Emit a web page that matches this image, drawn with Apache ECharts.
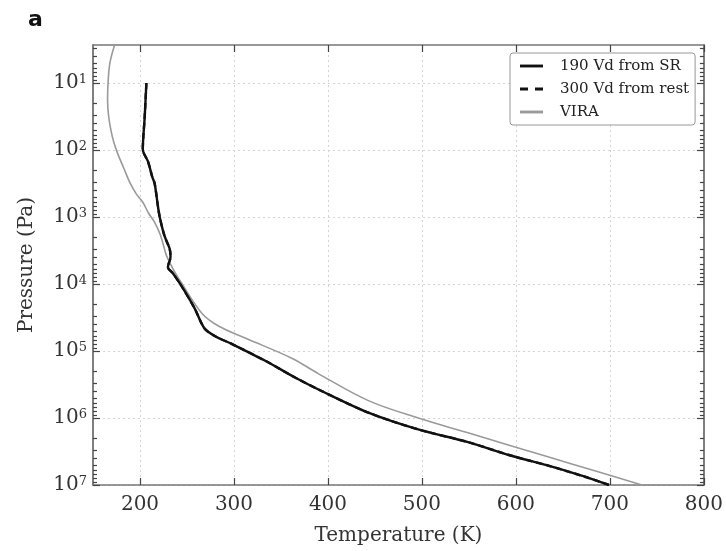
<!DOCTYPE html>
<html>
<head>
<meta charset="utf-8">
<script src="https://cdn.jsdelivr.net/npm/echarts@6/dist/echarts.min.js"></script>
<style>
html,body{margin:0;padding:0;background:#fff;}
#chart{width:726px;height:551px;}
</style>
</head>
<body>
<div id="chart"></div>
<script>
// ---- data ----
const sr190Temp = [206.8, 205, 203, 208.5, 213, 215.6, 219, 221, 226, 231.5, 232.5, 229.7, 235, 243.8, 258, 268.5, 280, 298.5, 333.8, 365.5, 389.4, 443, 496, 549, 594.4, 633.6, 669, 699];
const sr190Pressure = [10, 32, 98, 148, 250, 316, 676, 1000, 1900, 2950, 3900, 5600, 6900, 10500, 22900, 45700, 60000, 79400, 141000, 251000, 372000, 832000, 1480000, 2290000, 3630000, 5100000, 7200000, 10000000];
// dashed "300 Vd from rest" profile coincides with the solid one in the picture
const rest300Temp = sr190Temp.slice();
const rest300Pressure = sr190Pressure.slice();
const viraTemp = [173, 168, 166, 165.5, 166.5, 169, 172, 176.5, 183, 189, 196, 203, 209, 215.6, 222, 228, 233, 238, 243, 266, 284, 312.6, 362, 390, 443, 496, 549, 598, 634, 686.5, 734];
const viraPressure = [2.7, 5, 10, 18, 30, 50, 75, 115, 190, 300, 450, 600, 870, 1200, 1900, 3700, 5200, 7000, 9100, 27500, 42700, 64600, 129000, 219000, 550000, 1000000, 1660000, 2690000, 3800000, 6300000, 10000000];

const seriesNames = ['190 Vd from SR', '300 Vd from rest', 'VIRA'];
const xTicks = [200, 300, 400, 500, 600, 700, 800];
const yTicks = [1e1, 1e2, 1e3, 1e4, 1e5, 1e6, 1e7];
const xRange = [150, 800];
const yRange = [2.7, 1e7];
const yMinorTicks = [];
for (let e = 0; e <= 6; e++) for (let m = 2; m <= 9; m++) { const v = m * Math.pow(10, e); if (v >= yRange[0] && v <= yRange[1]) yMinorTicks.push(v); }

const zip = (a, b) => a.map((v, i) => [v, b[i]]);

const FONT = 'DejaVu Serif';
const AXC = '#777';
const TICKC = '#444';
const SOLID_ICON = 'path://M0,0H24V3H0Z';
const DASH_ICON = 'path://M0,0H8V3H0ZM15,0H23V3H15Z';

function yAxisBase(pos, ticks, len, labels) {
  return {
    type: 'log', logBase: 10, position: pos, inverse: true,
    min: yRange[0], max: yRange[1],
    axisLine: { show: true, lineStyle: { color: AXC, width: 1.5 } },
    axisTick: { show: true, inside: true, length: len, customValues: ticks, lineStyle: { color: TICKC, width: 1.2 } },
    axisLabel: labels ? {
      show: true, customValues: yTicks, margin: 6,
      formatter: v => '{b|10}{s|' + Math.round(Math.log10(v)) + '}',
      rich: {
        b: { fontFamily: FONT, fontSize: 20, color: '#333', lineHeight: 20, verticalAlign: 'bottom', padding: [3, 0, 0, 0] },
        s: { fontFamily: FONT, fontSize: 13, color: '#333', lineHeight: 13, verticalAlign: 'top' }
      }
    } : { show: false },
    splitLine: { show: false }
  };
}

const chart = echarts.init(document.getElementById('chart'), null, { renderer: 'canvas' });
chart.setOption({
  backgroundColor: '#fff',
  animation: false,
  title: { text: 'a', left: 23, top: 4, textStyle: { fontFamily: 'DejaVu Sans', fontWeight: 'bold', fontSize: 22, color: '#111' } },
  grid: { left: 93, right: 22, top: 45, bottom: 63, containLabel: false },
  legend: {
    orient: 'vertical', left: 510, top: 53,
    padding: [5, 6, 5, 10], itemWidth: 23, itemHeight: 3, itemGap: 7,
    backgroundColor: '#fff', borderColor: '#999', borderWidth: 1, borderRadius: 3,
    textStyle: { fontFamily: FONT, fontSize: 15, color: '#222', lineHeight: 16, padding: [0, 0, 0, 12] },
    data: [
      { name: seriesNames[0], icon: SOLID_ICON, itemStyle: { color: '#111' } },
      { name: seriesNames[1], icon: DASH_ICON, itemStyle: { color: '#111' } },
      { name: seriesNames[2], icon: SOLID_ICON, itemStyle: { color: '#9a9a9a' } }
    ]
  },
  xAxis: [
    {
      type: 'value', position: 'bottom', min: xRange[0], max: xRange[1],
      name: 'Temperature (K)', nameLocation: 'middle', nameGap: 41,
      nameTextStyle: { fontFamily: FONT, fontSize: 20, color: '#333' },
      axisLine: { show: true, lineStyle: { color: AXC, width: 1.5 } },
      axisTick: { show: true, inside: true, length: 7, customValues: xTicks, lineStyle: { color: TICKC, width: 1.2 } },
      axisLabel: { customValues: xTicks, fontFamily: FONT, fontSize: 20, color: '#333', margin: 10 },
      splitLine: { show: true, lineStyle: { color: '#d4d4d4', type: [2, 3], width: 1 } }
    },
    {
      type: 'value', position: 'top', min: xRange[0], max: xRange[1],
      axisLine: { show: true, lineStyle: { color: AXC, width: 1.5 } },
      axisTick: { show: true, inside: true, length: 7, customValues: xTicks, lineStyle: { color: TICKC, width: 1.2 } },
      axisLabel: { show: false }, splitLine: { show: false }
    }
  ],
  yAxis: [
    Object.assign(yAxisBase('left', yTicks, 7, true), {
      name: 'Pressure (Pa)', nameLocation: 'middle', nameGap: 56,
      nameTextStyle: { fontFamily: FONT, fontSize: 20, color: '#333' },
      splitLine: { show: true, lineStyle: { color: '#d4d4d4', type: [2, 3], width: 1 } }
    }),
    yAxisBase('right', yTicks, 7, false),
    yAxisBase('left', yMinorTicks, 4, false),
    yAxisBase('right', yMinorTicks, 4, false)
  ],
  series: [
    {
      name: seriesNames[1], type: 'line', xAxisIndex: 0, yAxisIndex: 0,
      data: zip(rest300Temp, rest300Pressure), showSymbol: false, symbol: 'none', smooth: 0.3,
      lineStyle: { color: '#111', width: 2.4, type: [6, 4] }, itemStyle: { color: '#111' }, z: 2
    },
    {
      name: seriesNames[2], type: 'line', xAxisIndex: 0, yAxisIndex: 0,
      data: zip(viraTemp, viraPressure), showSymbol: false, symbol: 'none', smooth: 0.35,
      lineStyle: { color: '#9a9a9a', width: 1.6 }, itemStyle: { color: '#9a9a9a' }, z: 3
    },
    {
      name: seriesNames[0], type: 'line', xAxisIndex: 0, yAxisIndex: 0,
      data: zip(sr190Temp, sr190Pressure), showSymbol: false, symbol: 'none', smooth: 0.3,
      lineStyle: { color: '#111', width: 2.4 }, itemStyle: { color: '#111' }, z: 4
    }
  ]
});
</script>
</body>
</html>
